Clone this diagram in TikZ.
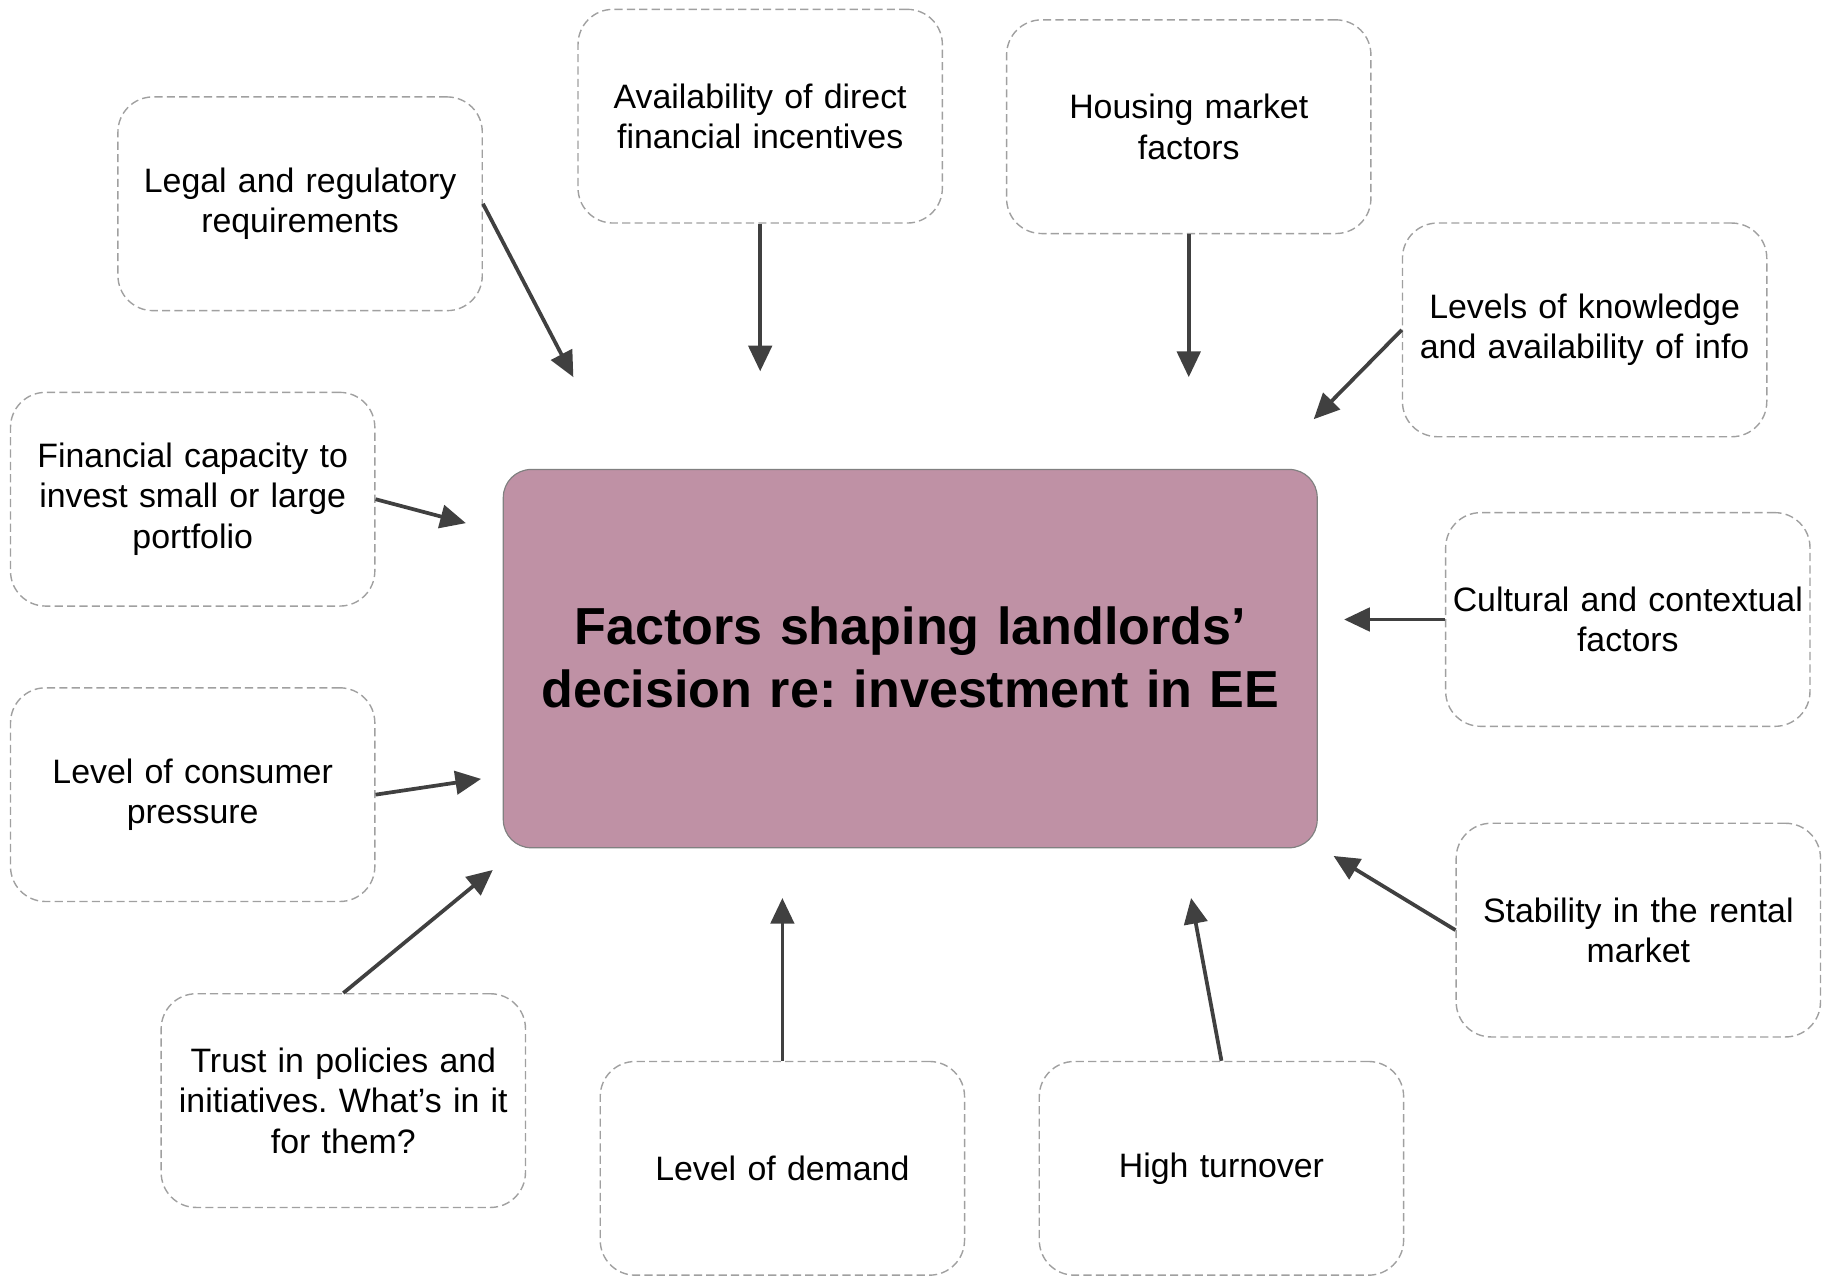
\documentclass[tikz,border=0pt]{standalone}
\usepackage{fontspec}
\setmainfont{Liberation Sans}
\usetikzlibrary{arrows.meta}
\frenchspacing
\definecolor{mauve}{RGB}{191,145,165}
\definecolor{arrowgray}{RGB}{64,64,64}
\definecolor{dashgray}{RGB}{160,160,160}
\tikzset{
  factor/.style={draw=dashgray, line width=0.6pt, dash pattern=on 3.5pt off 1.8pt,
    rounded corners=15pt, rectangle, minimum width=156pt, minimum height=91.5pt,
    text width=150pt, align=center, inner sep=0pt,
    font=\fontsize{14.5}{17.3}\selectfont\frenchspacing},
  centre/.style={draw=gray, line width=0.5pt, fill=mauve, rounded corners=12pt,
    rectangle, minimum width=348.5pt, minimum height=162pt, text width=340pt,
    align=center, inner sep=0pt, font=\fontsize{22.3}{27}\selectfont\bfseries\frenchspacing},
  link/.style={draw=arrowgray, line width=1.6pt, -{Triangle[length=11pt,width=10pt]}}
}
\begin{document}
\begin{tikzpicture}[x=0.5pt,y=-0.5pt]
\useasboundingbox (0,0) rectangle (1568,1093);
\node[centre] (c) at (779.5,564) {\raisebox{1pt}{Factors shaping landlords’}\\\raisebox{1pt}{decision re: investment in EE}};

\node[factor] (legal) at (257,174.5) {Legal and regulatory\\requirements};
\node[factor] (avail) at (651,99.5) {Availability of direct\\financial incentives};
\node[factor] (housing) at (1018,108.5) {Housing market\\factors};
\node[factor] (know) at (1357,282.5) {Levels of knowledge\\and availability of info};
\node[factor] (fin) at (165,427.5) {Financial capacity to\\invest small or large\\portfolio};
\node[factor] (cult) at (1394,530.5) {Cultural and contextual\\factors};
\node[factor] (cons) at (165,680.5) {Level of consumer\\pressure};
\node[factor] (stab) at (1403,796.5) {Stability in the rental\\market};
\node[factor] (trust) at (294,942.5) {Trust in policies and\\initiatives. What’s in it\\for them?};
\node[factor] (demand) at (670,1000.5) {Level of demand};
\node[factor] (turn) at (1046,1000.5) {High turnover};

\coordinate (tLegal) at (491,323);
\coordinate (tAvail) at (651,318);
\coordinate (tHousing) at (1018,323);
\coordinate (tKnow) at (1125,359);
\coordinate (tFin) at (399,448);
\coordinate (tCult) at (1151,530.5);
\coordinate (tCons) at (412,667);
\coordinate (tStab) at (1142,733);
\coordinate (tTrust) at (422,745);
\coordinate (tDemand) at (670,769);
\coordinate (tTurn) at (1020,769);

\draw[link] (legal.east) -- (tLegal);
\draw[link] (avail.south) -- (tAvail);
\draw[link] (housing.south) -- (tHousing);
\draw[link] (know.west) -- (tKnow);
\draw[link] (fin.east) -- (tFin);
\draw[link] (cult.west) -- (tCult);
\draw[link] (cons.east) -- (tCons);
\draw[link] (stab.west) -- (tStab);
\draw[link] (trust.north) -- (tTrust);
\draw[link] (demand.north) -- (tDemand);
\draw[link] (turn.north) -- (tTurn);
\end{tikzpicture}
\end{document}
